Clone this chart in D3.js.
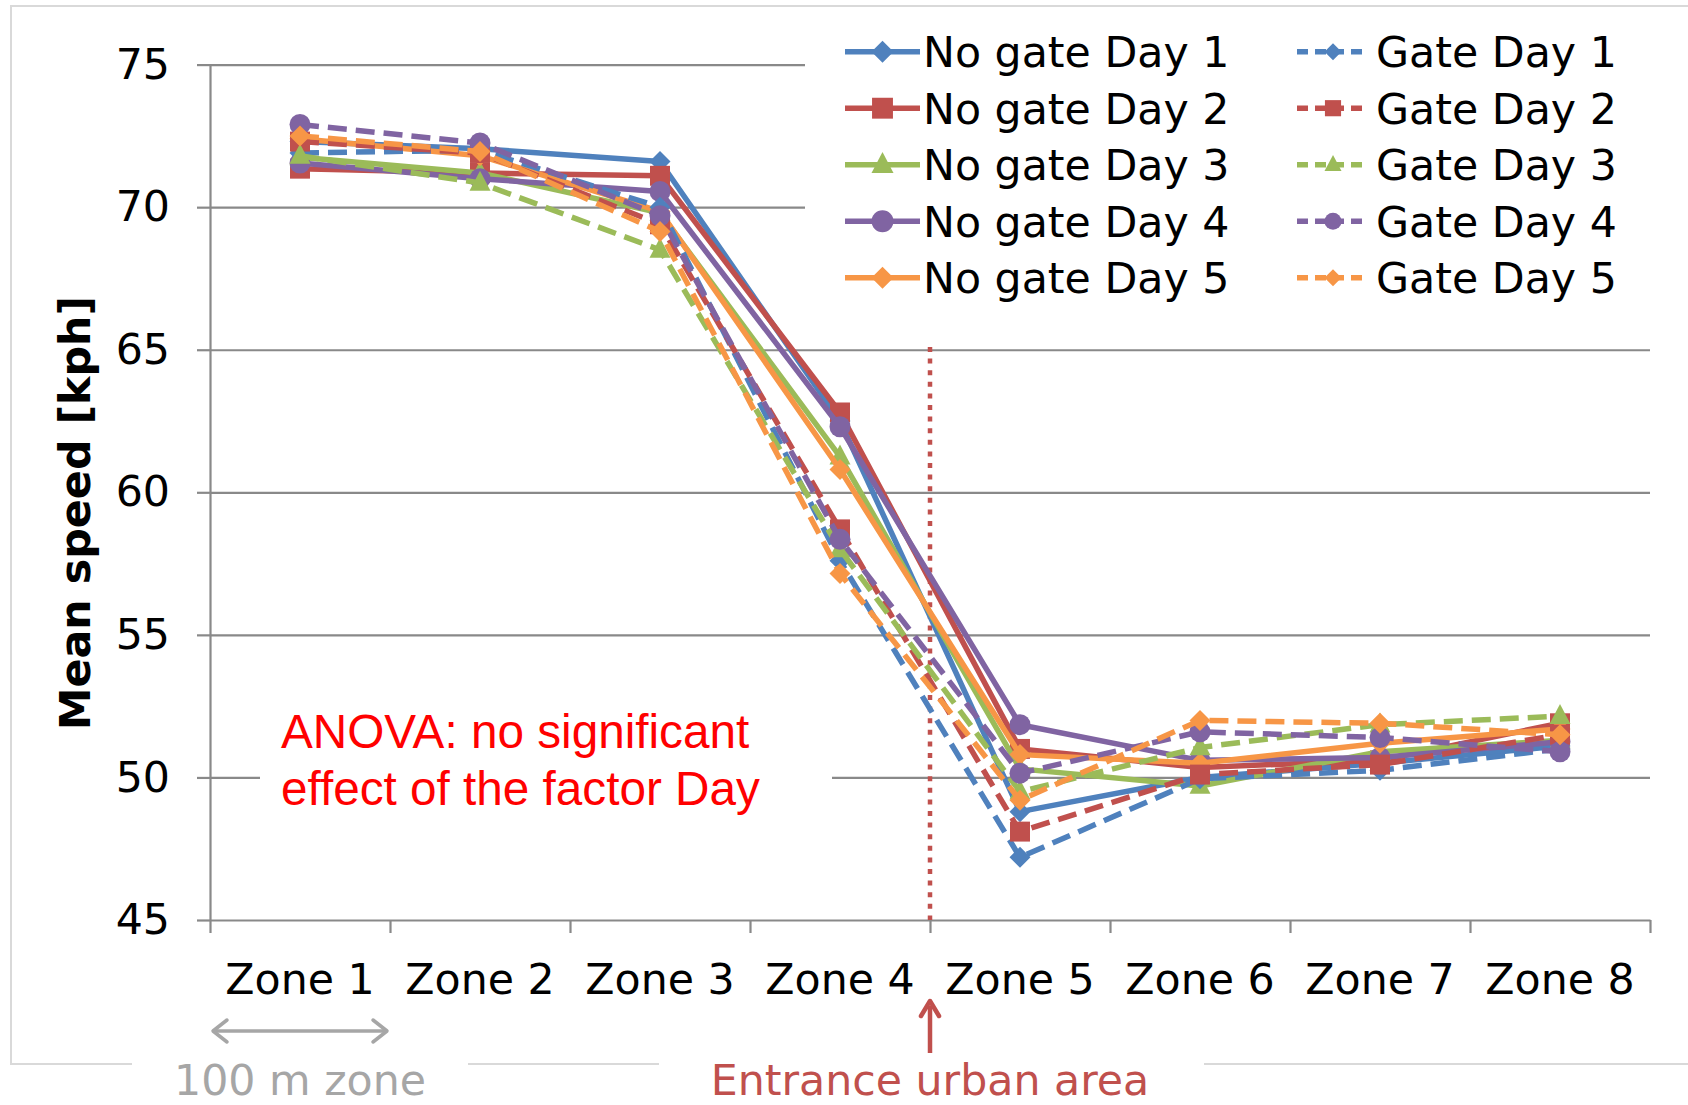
<!DOCTYPE html>
<html>
<head>
<meta charset="utf-8">
<script src="https://cdn.jsdelivr.net/npm/d3@7"></script>
<style>
  html, body { margin: 0; padding: 0; background: #fff; }
  svg { display: block; }
</style>
</head>
<body>
<svg id="chart" width="1688" height="1105"></svg>
<script>
// ---------- data ----------
const zones = ["Zone 1", "Zone 2", "Zone 3", "Zone 4", "Zone 5", "Zone 6", "Zone 7", "Zone 8"];
const yTicks = [45, 50, 55, 60, 65, 70, 75];

const noGateDay1 = [72.3, 72.05, 71.6, 62.5, 48.8, 50.0, 50.5, 51.1];
const noGateDay2 = [71.35, 71.2, 71.1, 62.8, 51.0, 50.35, 50.6, 51.9];
const noGateDay3 = [71.75, 71.2, 69.8, 61.25, 50.3, 49.7, 50.9, 51.3];
const noGateDay4 = [71.55, 71.0, 70.55, 62.3, 51.85, 50.6, 50.7, 51.25];
const noGateDay5 = [72.4, 71.8, 69.85, 60.8, 50.8, 50.5, 51.2, 51.7];
const gateDay1 = [71.9, 72.0, 70.0, 57.6, 47.2, 49.95, 50.25, 51.0];
const gateDay2 = [72.3, 71.9, 69.4, 58.7, 48.1, 50.1, 50.45, 51.5];
const gateDay3 = [71.8, 70.85, 68.5, 58.0, 49.5, 51.05, 51.85, 52.15];
const gateDay4 = [72.9, 72.25, 69.7, 58.35, 50.15, 51.6, 51.4, 50.9];
const gateDay5 = [72.5, 71.95, 69.15, 57.15, 49.2, 52.0, 51.9, 51.5];

const noGateNames = ["No gate Day 1", "No gate Day 2", "No gate Day 3", "No gate Day 4", "No gate Day 5"];
const gateNames = ["Gate Day 1", "Gate Day 2", "Gate Day 3", "Gate Day 4", "Gate Day 5"];

// ---------- styles ----------
const colors = ["#4F81BD", "#C0504D", "#9BBB59", "#8064A2", "#F79646"];
const shapes = ["diamond", "square", "triangle", "circle", "diamond"];

const series = [
  { name: noGateNames[0], values: noGateDay1, ci: 0, dashed: false },
  { name: noGateNames[1], values: noGateDay2, ci: 1, dashed: false },
  { name: noGateNames[2], values: noGateDay3, ci: 2, dashed: false },
  { name: noGateNames[3], values: noGateDay4, ci: 3, dashed: false },
  { name: noGateNames[4], values: noGateDay5, ci: 4, dashed: false },
  { name: gateNames[0], values: gateDay1, ci: 0, dashed: true },
  { name: gateNames[1], values: gateDay2, ci: 1, dashed: true },
  { name: gateNames[2], values: gateDay3, ci: 2, dashed: true },
  { name: gateNames[3], values: gateDay4, ci: 3, dashed: true },
  { name: gateNames[4], values: gateDay5, ci: 4, dashed: true }
];

function markerPath(shape, s) {
  if (shape === "diamond") return `M0,${-s} L${s},0 L0,${s} L${-s},0Z`;
  if (shape === "square") { const h = s * 0.95; return `M${-h},${-h} H${h} V${h} H${-h}Z`; }
  if (shape === "triangle") return `M0,${-s * 1.15} L${s},${s * 0.75} L${-s},${s * 0.75}Z`;
  const r = s;
  return `M${r},0 A${r},${r} 0 1,1 ${-r},0 A${r},${r} 0 1,1 ${r},0Z`;
}

const svg = d3.select("#chart");
const FONT = "'DejaVu Sans', Verdana, sans-serif";
const FS = 42.7;
const GRID = "#898989";

const pLeft = 210, pRight = 1650, pTop = 64.6, pBottom = 920;
const x = d3.scaleBand().domain(zones).range([pLeft, pRight]).padding(0);
const y = d3.scaleLinear().domain([45, 75]).range([pBottom, pTop]);
const cx = z => x(z) + x.bandwidth() / 2;

// outer border
svg.append("rect").attr("x", 11).attr("y", 6).attr("width", 1700).attr("height", 1058)
  .attr("fill", "none").attr("stroke", "#D9D9D9").attr("stroke-width", 2);

// gridlines
const grid = svg.append("g").attr("transform", `translate(${pLeft},0)`)
  .call(d3.axisLeft(y).tickValues(yTicks.filter(v => v !== 45)).tickSize(-(pRight - pLeft)).tickFormat(""));
grid.select(".domain").remove();
grid.selectAll("line").attr("stroke", GRID).attr("stroke-width", 2.2);

// y axis
const yAxis = svg.append("g").attr("transform", `translate(${pLeft},0)`)
  .call(d3.axisLeft(y).tickValues(yTicks).tickSize(13).tickPadding(27).tickSizeOuter(0));
yAxis.select(".domain").attr("stroke", GRID).attr("stroke-width", 2.2);
yAxis.selectAll("line").attr("stroke", GRID).attr("stroke-width", 2.2);
yAxis.selectAll("text").attr("font-family", FONT).attr("font-size", FS).attr("fill", "#000");

// x axis (boundary ticks)
const xb = d3.scaleLinear().domain([0, zones.length]).range([pLeft, pRight]);
const xAxis = svg.append("g").attr("transform", `translate(0,${pBottom})`)
  .call(d3.axisBottom(xb).tickValues(d3.range(zones.length + 1)).tickSize(13).tickFormat("").tickSizeOuter(0));
xAxis.select(".domain").attr("stroke", GRID).attr("stroke-width", 2.2);
xAxis.selectAll("line").attr("stroke", GRID).attr("stroke-width", 2.2);

// x labels
const xLab = svg.append("g").attr("transform", `translate(0,${pBottom})`)
  .call(d3.axisBottom(x).tickSize(0).tickPadding(44));
xLab.select(".domain").remove();
xLab.selectAll("text").attr("font-family", FONT).attr("font-size", FS).attr("fill", "#000");

// y axis title
svg.append("text").attr("transform", `translate(90,513) rotate(-90)`)
  .attr("text-anchor", "middle").attr("font-family", FONT).attr("font-weight", "bold")
  .attr("font-size", 42.8).attr("fill", "#000").text("Mean speed [kph]");

// ANOVA box
svg.append("rect").attr("x", 260).attr("y", 695).attr("width", 572).attr("height", 135).attr("fill", "#fff");
svg.append("text").attr("x", 281).attr("y", 748).attr("font-family", "'Liberation Sans', Arial, sans-serif")
  .attr("font-size", 47.7).attr("fill", "#FF0000").text("ANOVA: no significant");
svg.append("text").attr("x", 281).attr("y", 805).attr("font-family", "'Liberation Sans', Arial, sans-serif")
  .attr("font-size", 47.7).attr("fill", "#FF0000").text("effect of the factor Day");

// entrance dotted line
const bx = xb(4);
svg.append("line").attr("x1", bx).attr("x2", bx).attr("y1", 347).attr("y2", pBottom)
  .attr("stroke", "#C0504D").attr("stroke-width", 4.5).attr("stroke-dasharray", "5,6.6");

// series
const line = d3.line().x((d, i) => cx(zones[i])).y(d => y(d));
const sg = svg.append("g");
series.forEach(s => {
  const g = sg.append("g");
  g.append("path").attr("d", line(s.values)).attr("fill", "none")
    .attr("stroke", colors[s.ci]).attr("stroke-width", 5.5)
    .attr("stroke-linejoin", "round")
    .attr("stroke-dasharray", s.dashed ? "19,9" : null);
  g.selectAll("path.m").data(s.values).join("path").attr("class", "m")
    .attr("transform", (d, i) => `translate(${cx(zones[i])},${y(d)})`)
    .attr("d", markerPath(shapes[s.ci], 10.5))
    .attr("fill", colors[s.ci]);
});

// legend
svg.append("rect").attr("x", 805).attr("y", 15).attr("width", 860).attr("height", 295).attr("fill", "#fff");
const rowY = d3.range(5).map(i => 51.7 + i * 56.5);
const leg = svg.append("g");
[0, 1].forEach(col => {
  const names = col === 0 ? noGateNames : gateNames;
  const lx1 = col === 0 ? 845 : 1297, lx2 = col === 0 ? 920 : 1369, tx = col === 0 ? 923 : 1376;
  names.forEach((n, i) => {
    const yy = rowY[i];
    leg.append("line").attr("x1", lx1).attr("x2", lx2).attr("y1", yy).attr("y2", yy)
      .attr("stroke", colors[i]).attr("stroke-width", 5.5)
      .attr("stroke-dasharray", col === 1 ? "11,7" : null);
    leg.append("path").attr("transform", `translate(${(lx1 + lx2) / 2},${yy})`)
      .attr("d", markerPath(shapes[i], col === 0 ? 11 : 8.5)).attr("fill", colors[i]);
    leg.append("text").attr("x", tx).attr("y", yy).attr("dy", "0.36em")
      .attr("font-family", FONT).attr("font-size", FS).attr("fill", "#000").text(n);
  });
});

// bottom annotations
svg.append("rect").attr("x", 132).attr("y", 1058).attr("width", 336).attr("height", 12).attr("fill", "#fff");
svg.append("rect").attr("x", 659).attr("y", 1058).attr("width", 545).attr("height", 12).attr("fill", "#fff");

// 100 m double arrow
const gA = "#A6A6A6";
const ax1 = xb(0) + 3, ax2 = xb(1) - 3, ay = 1031;
svg.append("line").attr("x1", ax1).attr("x2", ax2).attr("y1", ay).attr("y2", ay).attr("stroke", gA).attr("stroke-width", 3.5);
svg.append("path").attr("d", `M${ax1 + 14},${ay - 11} L${ax1},${ay} L${ax1 + 14},${ay + 11}`)
  .attr("fill", "none").attr("stroke", gA).attr("stroke-width", 3.5).attr("stroke-linecap", "round").attr("stroke-linejoin", "round");
svg.append("path").attr("d", `M${ax2 - 14},${ay - 11} L${ax2},${ay} L${ax2 - 14},${ay + 11}`)
  .attr("fill", "none").attr("stroke", gA).attr("stroke-width", 3.5).attr("stroke-linecap", "round").attr("stroke-linejoin", "round");
svg.append("text").attr("x", (xb(0) + xb(1)) / 2).attr("y", 1095).attr("text-anchor", "middle")
  .attr("font-family", FONT).attr("font-size", FS).attr("fill", gA).text("100 m zone");

// entrance arrow
svg.append("line").attr("x1", bx).attr("x2", bx).attr("y1", 1006).attr("y2", 1053)
  .attr("stroke", "#C0504D").attr("stroke-width", 4.5);
svg.append("path").attr("d", `M${bx - 9},${1016} L${bx},${1001} L${bx + 9},${1016}`)
  .attr("fill", "none").attr("stroke", "#C0504D").attr("stroke-width", 4.5).attr("stroke-linecap", "round").attr("stroke-linejoin", "round");
svg.append("text").attr("x", bx).attr("y", 1095).attr("text-anchor", "middle")
  .attr("font-family", FONT).attr("font-size", FS).attr("fill", "#C0504D").text("Entrance urban area");
</script>
</body>
</html>
